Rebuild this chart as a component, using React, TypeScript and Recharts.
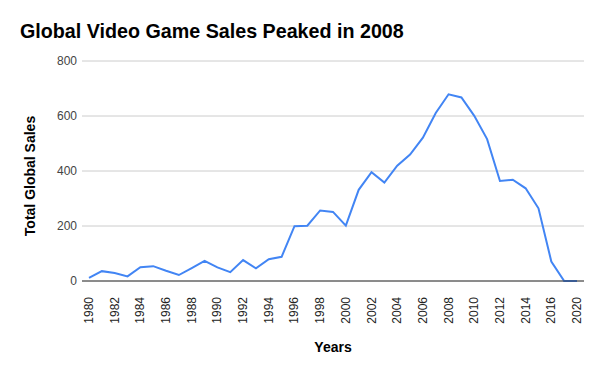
import React from 'react';
import { LineChart, Line, XAxis, YAxis, CartesianGrid, Label } from 'recharts';

const years = [
  '1980', '1981', '1982', '1983', '1984', '1985', '1986', '1987', '1988', '1989',
  '1990', '1991', '1992', '1993', '1994', '1995', '1996', '1997', '1998', '1999',
  '2000', '2001', '2002', '2003', '2004', '2005', '2006', '2007', '2008', '2009',
  '2010', '2011', '2012', '2013', '2014', '2015', '2016', '2017', '2020',
];

const sales = [
  11.4, 35.8, 28.9, 16.8, 50.4, 53.9, 37.1, 21.7, 47.2, 73.5,
  49.4, 32.2, 76.2, 46.0, 79.2, 88.1, 199.2, 201.0, 256.5, 251.3,
  201.6, 331.5, 395.5, 357.9, 419.3, 459.9, 521.0, 611.1, 678.9, 667.3,
  600.5, 516.0, 363.5, 368.1, 337.1, 264.4, 70.9, 0.1, 0.3,
];

const yTicks = [0, 200, 400, 600, 800];

const data = years.map((year, i) => ({ year, sales: sales[i] }));

const FONT = '"Liberation Sans", Arial, sans-serif';

const YearTick = (props: any) => {
  const { x, y, payload } = props;
  return (
    <g transform={`translate(${x},${y})`}>
      <text
        transform="rotate(-90)"
        x={-8}
        y={0}
        dy={4}
        textAnchor="end"
        fill="#222"
        fontSize={12}
        fontFamily={FONT}
      >
        {payload.value}
      </text>
    </g>
  );
};

const App: React.FC = () => {
  return (
    <div style={{ position: 'absolute', left: 0, top: 0, width: 600, height: 371, background: '#fff' }}>
      <div
        style={{
          position: 'absolute',
          left: 20,
          top: 19,
          fontFamily: FONT,
          fontWeight: 'bold',
          fontSize: 19.7,
          lineHeight: '24px',
          color: '#000',
          whiteSpace: 'nowrap',
        }}
      >
        Global Video Game Sales Peaked in 2008
      </div>
      <LineChart width={600} height={371} data={data} margin={{ top: 61, right: 16, left: 0, bottom: 0 }}>
        <CartesianGrid vertical={false} stroke="#cccccc" />
        <XAxis
          dataKey="year"
          interval={1}
          padding={{ left: 7, right: 7 }}
          height={90}
          stroke="#333"
          tickLine={false}
          tick={<YearTick />}
        >
          <Label
            content={(p: any) => (
              <text
                x={p.viewBox.x + p.viewBox.width / 2}
                y={p.viewBox.y + 71}
                textAnchor="middle"
                fontSize={14}
                fontWeight="bold"
                fontFamily={FONT}
                fill="#000"
              >
                Years
              </text>
            )}
          />
        </XAxis>
        <YAxis
          width={82}
          domain={[0, 800]}
          ticks={yTicks}
          axisLine={false}
          tickLine={false}
          tickSize={0}
          tickMargin={5}
          tick={{ fill: '#444', fontSize: 12, fontFamily: FONT }}
        >
          <Label
            content={(p: any) => {
              const cx = p.viewBox.x + 35;
              const cy = p.viewBox.y + p.viewBox.height / 2 + 5;
              return (
                <text
                  x={cx}
                  y={cy}
                  transform={`rotate(-90 ${cx} ${cy})`}
                  textAnchor="middle"
                  fontSize={14}
                  fontWeight="bold"
                  fontFamily={FONT}
                  fill="#000"
                >
                  Total Global Sales
                </text>
              );
            }}
          />
        </YAxis>
        <Line
          type="linear"
          dataKey="sales"
          stroke="#4285F4"
          strokeWidth={2}
          dot={false}
          isAnimationActive={false}
        />
      </LineChart>
    </div>
  );
};

export default App;
